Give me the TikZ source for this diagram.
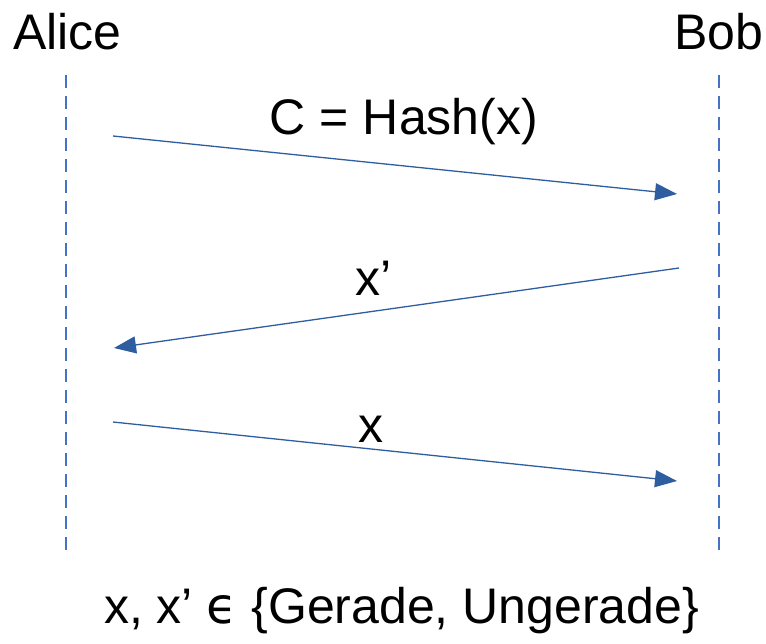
\documentclass[tikz,border=0pt]{standalone}
\usepackage{fontspec}
\setmainfont{Liberation Sans}
\newfontfamily\symfont{DejaVu Sans}
\usetikzlibrary{arrows.meta}
\definecolor{lifeblue}{RGB}{68,114,196}
\definecolor{msgblue}{RGB}{46,94,160}
\begin{document}
\begin{tikzpicture}[x=1pt,y=-1pt,
  lbl/.style={inner sep=0pt,anchor=base,font=\fontsize{50}{60}\selectfont,text=black},
  lifeline/.style={draw=lifeblue,line width=1.3pt,dash pattern=on 13pt off 8pt},
  msg/.style={draw=msgblue,line width=1.3pt,-{Triangle[length=22pt,width=17pt]}}]
\useasboundingbox (0,0) rectangle (766,644);
% participants
\node[lbl] (alice) at (67.5,50) {Alice};
\node[lbl] (bob) at (719,50) {Bob};
% lifelines
\coordinate (at) at (66,75);
\coordinate (ab) at (66,557);
\coordinate (bt) at (719,75);
\coordinate (bb) at (719,557);
\draw[lifeline] (at) -- (ab);
\draw[lifeline] (bt) -- (bb);
% messages
\coordinate (m1s) at (113,136);
\coordinate (m1e) at (677,194);
\coordinate (m2s) at (679,268);
\coordinate (m2e) at (114,348);
\coordinate (m3s) at (113,422);
\coordinate (m3e) at (677,481);
\draw[msg] (m1s) -- (m1e);
\draw[msg] (m2s) -- (m2e);
\draw[msg] (m3s) -- (m3e);
% labels
\node[lbl] (l1) at (404,135) {C = Hash(x)};
\node[lbl] (l2) at (374,296) {x’};
\node[lbl] (l3) at (370.5,442) {x};
\node[lbl] (foot) at (401.5,623) {x, x’ {\symfont ϵ} \{Gerade, Ungerade\}};
\end{tikzpicture}
\end{document}
